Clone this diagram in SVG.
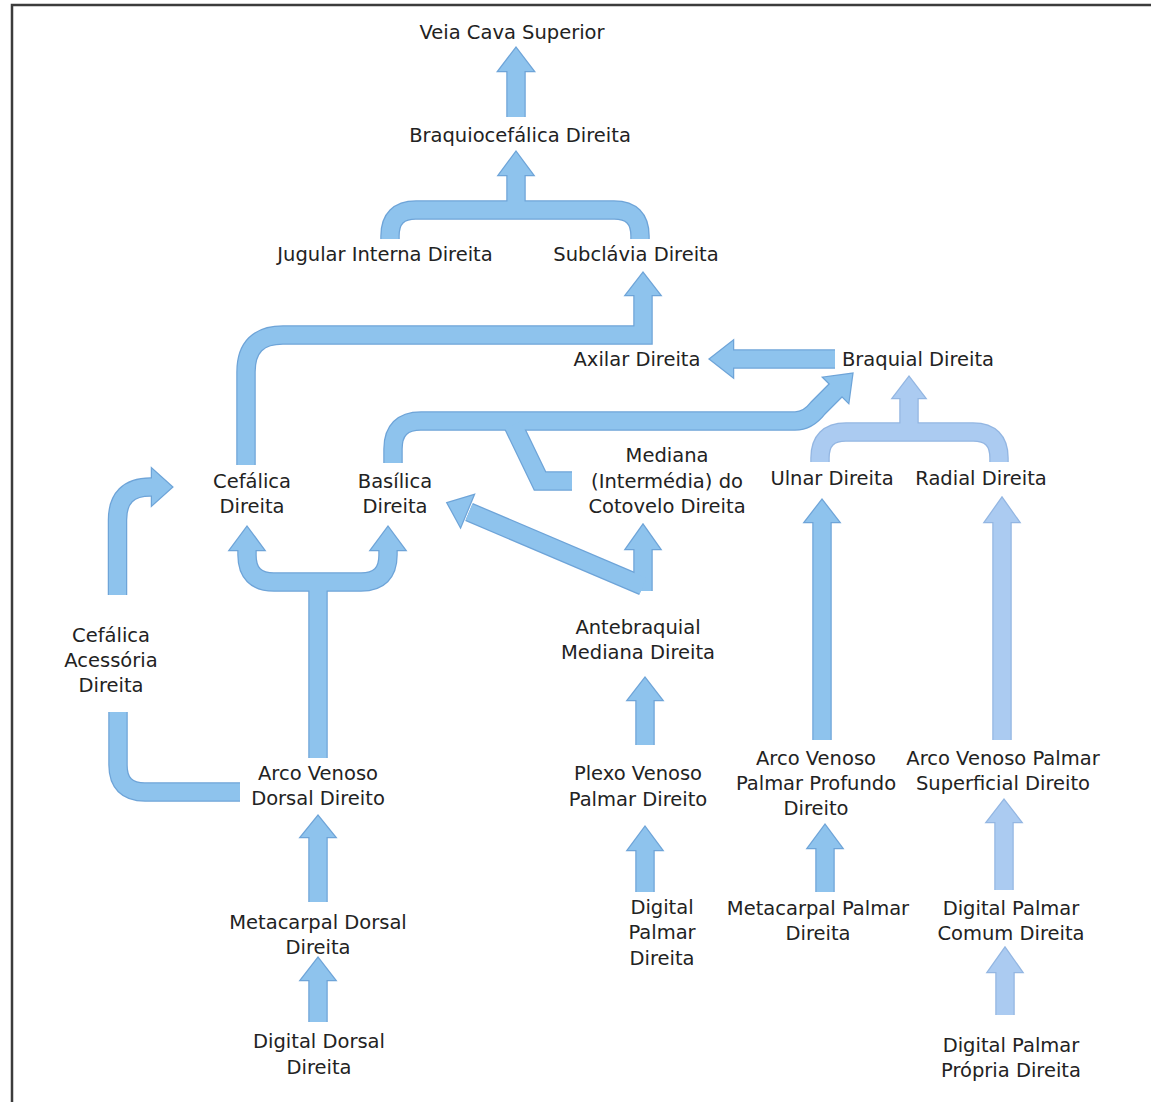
<svg xmlns="http://www.w3.org/2000/svg" xmlns:xlink="http://www.w3.org/1999/xlink" width="1151" height="1102" viewBox="0 0 1151 1102">
<style>
text{font-family:"DejaVu Sans","Liberation Sans",sans-serif;font-size:19.5px;fill:#222;text-anchor:middle}
.frame{stroke:#3c3c3c;stroke-width:2.5;fill:none}
.ol .s{fill:none;stroke:#6ea4d8;stroke-width:19.5}
.ol .h{fill:#6ea4d8;stroke:#6ea4d8;stroke-width:2.5;stroke-linejoin:miter}
.fl .s{fill:none;stroke:#8ec3ed;stroke-width:17}
.fl .h{fill:#8ec3ed;stroke:none}
.lt.ol .s{stroke:#93b6e2}
.lt.ol .h{fill:#93b6e2;stroke:#93b6e2}
.lt.fl .s{stroke:#abcbf1}
.lt.fl .h{fill:#abcbf1}
</style>
<defs>
<path id="sA" d="M516,117 V69"/>
<polygon id="hA" points="498.5,71 533.5,71 516,48"/>
<path id="sB" d="M390,239 V236 Q390,210 416,210 H614 Q640,210 640,236 V239"/>
<path id="sB2" d="M516,211 V173"/>
<polygon id="hB" points="499,175 533,175 516,152"/>
<path id="sC" d="M246,465 V372 Q246,335 283,335 H643 V293"/>
<polygon id="hC" points="626,295 660,295 643,273"/>
<path id="sD" d="M835,359 H731"/>
<polygon id="hD" points="733,341 733,377 710,359"/>
<path id="sE" d="M393,463 V449 Q393,421 421,421 H795 Q808,421 818,408 L838,388"/>
<polygon id="hE" points="848.4,402.4 823.6,377.6 852.3,373.7"/>
<path id="sM" d="M643,591 V547"/>
<polygon id="hM" points="626,549 660,549 643,525"/>
<path id="sM2" d="M643,586 L469,512"/>
<polygon id="hM2" points="473.5,495.3 460.5,526.7 447.6,502.9"/>
<path id="sN" d="M513,425 L540,481 H572"/>
<path id="sK" d="M645,892 V848"/>
<polygon id="hK" points="628,850 662,850 645,827"/>
<path id="sL" d="M645,745 V698"/>
<polygon id="hL" points="628,700 662,700 645,678"/>
<path id="sO" d="M247,548 V555 Q247,582 274,582 H361 Q388,582 388,555 V548"/>
<path id="sO2" d="M318,758 V583"/>
<polygon id="hO1" points="230,550 264,550 247,527"/>
<polygon id="hO2" points="371,550 405,550 388,527"/>
<path id="sP" d="M117.5,595 V520 Q117.5,487 150.5,487 H154"/>
<polygon id="hP" points="152,469 152,505 172,487"/>
<path id="sQ" d="M118,712 V765 Q118,792 145,792 H240"/>
<path id="sR" d="M318,902 V835"/>
<polygon id="hR" points="301,837 335,837 318,816"/>
<path id="sS" d="M318,1022 V978"/>
<polygon id="hS" points="301,980 335,980 318,958"/>
<path id="sH" d="M825,892 V846"/>
<polygon id="hH" points="808,848 842,848 825,825"/>
<path id="sG" d="M822,740 V520"/>
<polygon id="hG" points="805,522 839,522 822,500"/>
<path id="sF" d="M820,462 V458 Q820,432 846,432 H973 Q999,432 999,458 V462"/>
<path id="sF2" d="M909,433 V396"/>
<polygon id="hF" points="893,398 925,398 909,377"/>
<path id="sR2" d="M1002,740 V520"/>
<polygon id="hR2" points="985,522 1019,522 1002,498"/>
<path id="sI" d="M1004,890 V820"/>
<polygon id="hI" points="987,822 1021,822 1004,800"/>
<path id="sJ" d="M1005,1015 V970"/>
<polygon id="hJ" points="988,972 1022,972 1005,948"/>
</defs>
<rect x="0" y="0" width="1151" height="1102" fill="#fff"/>
<path class="frame" d="M12,1102 V5 H1151"/>
<g id="connectors">
<g class="ol">
<use class="s" href="#sA"/><use class="s" href="#sB"/><use class="s" href="#sB2"/><use class="s" href="#sC"/><use class="s" href="#sD"/><use class="s" href="#sE"/><use class="s" href="#sM"/><use class="s" href="#sM2"/><use class="s" href="#sN"/><use class="s" href="#sK"/><use class="s" href="#sL"/><use class="s" href="#sO"/><use class="s" href="#sO2"/><use class="s" href="#sP"/><use class="s" href="#sQ"/><use class="s" href="#sR"/><use class="s" href="#sS"/><use class="s" href="#sH"/><use class="s" href="#sG"/>
<use class="h" href="#hA"/><use class="h" href="#hB"/><use class="h" href="#hC"/><use class="h" href="#hD"/><use class="h" href="#hE"/><use class="h" href="#hM"/><use class="h" href="#hM2"/><use class="h" href="#hK"/><use class="h" href="#hL"/><use class="h" href="#hO1"/><use class="h" href="#hO2"/><use class="h" href="#hP"/><use class="h" href="#hR"/><use class="h" href="#hS"/><use class="h" href="#hH"/><use class="h" href="#hG"/>
</g>
<g class="lt ol">
<use class="s" href="#sF"/><use class="s" href="#sF2"/><use class="s" href="#sR2"/><use class="s" href="#sI"/><use class="s" href="#sJ"/>
<use class="h" href="#hF"/><use class="h" href="#hR2"/><use class="h" href="#hI"/><use class="h" href="#hJ"/>
</g>
<g class="fl">
<use class="s" href="#sA"/><use class="s" href="#sB"/><use class="s" href="#sB2"/><use class="s" href="#sC"/><use class="s" href="#sD"/><use class="s" href="#sE"/><use class="s" href="#sM"/><use class="s" href="#sM2"/><use class="s" href="#sN"/><use class="s" href="#sK"/><use class="s" href="#sL"/><use class="s" href="#sO"/><use class="s" href="#sO2"/><use class="s" href="#sP"/><use class="s" href="#sQ"/><use class="s" href="#sR"/><use class="s" href="#sS"/><use class="s" href="#sH"/><use class="s" href="#sG"/>
<use class="h" href="#hA"/><use class="h" href="#hB"/><use class="h" href="#hC"/><use class="h" href="#hD"/><use class="h" href="#hE"/><use class="h" href="#hM"/><use class="h" href="#hM2"/><use class="h" href="#hK"/><use class="h" href="#hL"/><use class="h" href="#hO1"/><use class="h" href="#hO2"/><use class="h" href="#hP"/><use class="h" href="#hR"/><use class="h" href="#hS"/><use class="h" href="#hH"/><use class="h" href="#hG"/>
</g>
<g class="lt fl">
<use class="s" href="#sF"/><use class="s" href="#sF2"/><use class="s" href="#sR2"/><use class="s" href="#sI"/><use class="s" href="#sJ"/>
<use class="h" href="#hF"/><use class="h" href="#hR2"/><use class="h" href="#hI"/><use class="h" href="#hJ"/>
</g>
</g>
<g id="n1"><text x="512" y="39">Veia Cava Superior</text></g>
<g id="n2"><text x="520" y="142">Braquiocefálica Direita</text></g>
<g id="n3"><text x="385" y="261">Jugular Interna Direita</text></g>
<g id="n4"><text x="636" y="261">Subclávia Direita</text></g>
<g id="n5"><text x="637" y="366">Axilar Direita</text></g>
<g id="n6"><text x="918" y="366">Braquial Direita</text></g>
<g id="n7"><text x="252" y="488">Cefálica<tspan x="252" dy="25">Direita</tspan></text></g>
<g id="n8"><text x="395" y="488">Basílica<tspan x="395" dy="25">Direita</tspan></text></g>
<g id="n9"><text x="667" y="462">Mediana<tspan x="667" dy="26">(Intermédia) do</tspan><tspan x="667" dy="25">Cotovelo Direita</tspan></text></g>
<g id="n10"><text x="832" y="485">Ulnar Direita</text></g>
<g id="n11"><text x="981" y="485">Radial Direita</text></g>
<g id="n12"><text x="111" y="642">Cefálica<tspan x="111" dy="25">Acessória</tspan><tspan x="111" dy="25">Direita</tspan></text></g>
<g id="n13"><text x="638" y="634">Antebraquial<tspan x="638" dy="25">Mediana Direita</tspan></text></g>
<g id="n14"><text x="318" y="780">Arco Venoso<tspan x="318" dy="25">Dorsal Direito</tspan></text></g>
<g id="n15"><text x="638" y="780">Plexo Venoso<tspan x="638" dy="26">Palmar Direito</tspan></text></g>
<g id="n16"><text x="816" y="765">Arco Venoso<tspan x="816" dy="25">Palmar Profundo</tspan><tspan x="816" dy="25">Direito</tspan></text></g>
<g id="n17"><text x="1003" y="765">Arco Venoso Palmar<tspan x="1003" dy="25">Superficial Direito</tspan></text></g>
<g id="n18"><text x="318" y="929">Metacarpal Dorsal<tspan x="318" dy="25">Direita</tspan></text></g>
<g id="n19"><text x="662" y="914">Digital<tspan x="662" dy="25">Palmar</tspan><tspan x="662" dy="26">Direita</tspan></text></g>
<g id="n20"><text x="818" y="915">Metacarpal Palmar<tspan x="818" dy="25">Direita</tspan></text></g>
<g id="n21"><text x="1011" y="915">Digital Palmar<tspan x="1011" dy="25">Comum Direita</tspan></text></g>
<g id="n22"><text x="319" y="1048">Digital Dorsal<tspan x="319" dy="26">Direita</tspan></text></g>
<g id="n23"><text x="1011" y="1052">Digital Palmar<tspan x="1011" dy="25">Própria Direita</tspan></text></g>
</svg>
